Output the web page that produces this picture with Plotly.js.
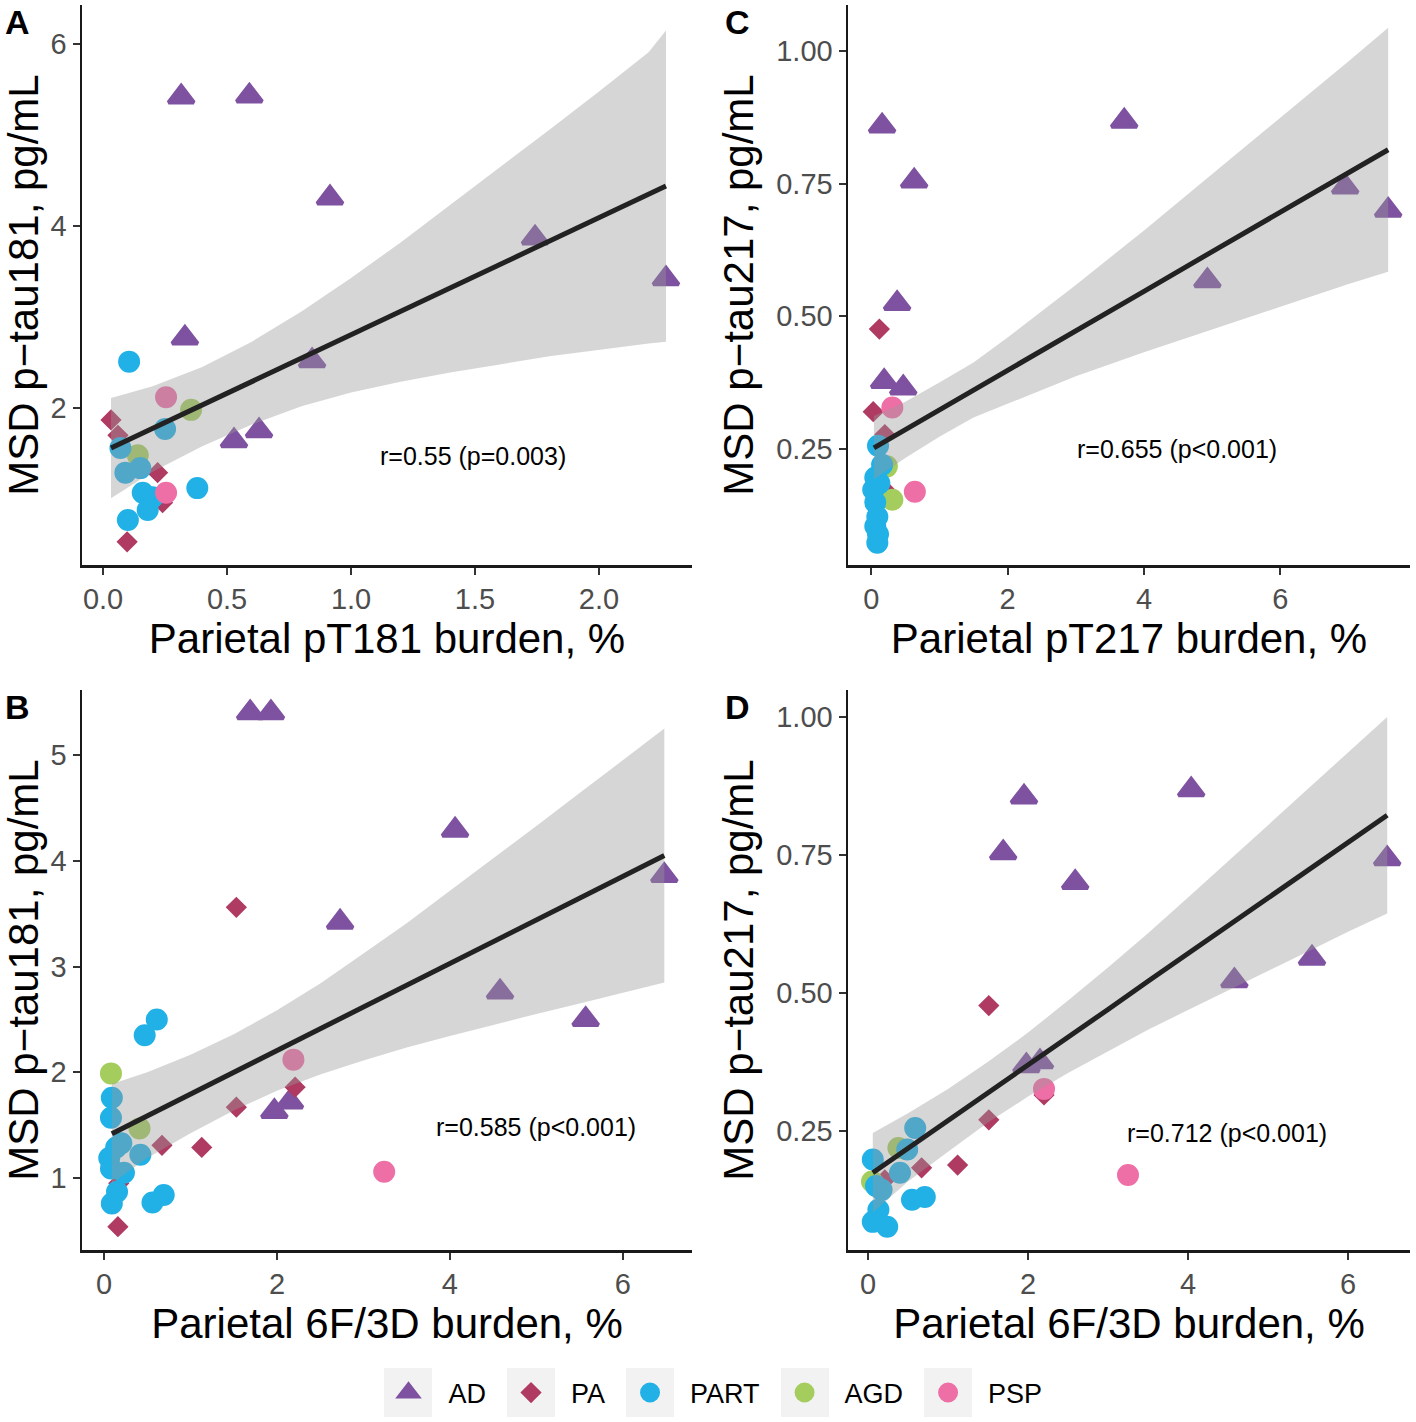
<!DOCTYPE html>
<html>
<head>
<meta charset="utf-8">
<script src="https://cdn.plot.ly/plotly-3.0.1.min.js"></script>
<style>html,body{margin:0;padding:0;background:#fff}#plot{width:1416px;height:1422px}</style>
</head>
<body>
<div id="plot"></div>
<script>
// groups
var groups = ['AD', 'PA', 'PART', 'AGD', 'PSP'];

// Panel A: parietal pT181 burden vs p-tau181
var A_AD_x = [0.315, 0.59, 0.915, 1.742, 2.27, 0.33, 0.843, 0.528, 0.629];
var A_AD_y = [5.42, 5.43, 4.31, 3.87, 3.42, 2.77, 2.52, 1.64, 1.75];
var A_PA_x = [0.032, 0.06, 0.22, 0.24, 0.097];
var A_PA_y = [1.87, 1.70, 1.29, 0.96, 0.53];
var A_PART_x = [0.105, 0.25, 0.07, 0.09, 0.15, 0.16, 0.2, 0.18, 0.38, 0.10];
var A_PART_y = [2.51, 1.77, 1.56, 1.29, 1.34, 1.07, 1.02, 0.88, 1.12, 0.77];
var A_AGD_x = [0.355, 0.14];
var A_AGD_y = [1.98, 1.48];
var A_PSP_x = [0.254, 0.254];
var A_PSP_y = [2.12, 1.07];
var A_fit_x = [0.032, 0.2, 0.4, 0.6, 0.8, 1.0, 1.2, 1.4, 1.6, 1.8, 2.0, 2.2, 2.27];
var A_fit_y = [1.56, 1.776, 2.034, 2.291, 2.549, 2.806, 3.064, 3.321, 3.579, 3.836, 4.094, 4.351, 4.44];
var A_hi = [2.11, 2.24, 2.45, 2.73, 3.06, 3.43, 3.82, 4.23, 4.64, 5.06, 5.48, 5.91, 6.15];
var A_lo = [1.01, 1.30, 1.58, 1.82, 2.02, 2.17, 2.29, 2.39, 2.48, 2.57, 2.64, 2.71, 2.73];

// Panel C: parietal pT217 burden vs p-tau217
var C_AD_x = [0.16, 0.63, 3.71, 6.95, 7.58, 0.38, 0.19, 0.47, 4.93];
var C_AD_y = [0.859, 0.755, 0.868, 0.744, 0.70, 0.524, 0.377, 0.365, 0.567];
var C_PA_x = [0.12, 0.03, 0.2, 0.2];
var C_PA_y = [0.476, 0.32, 0.277, 0.173];
var C_PART_x = [0.10, 0.16, 0.06, 0.03, 0.06, 0.09, 0.06, 0.10, 0.09, 0.12];
var C_PART_y = [0.256, 0.22, 0.196, 0.173, 0.149, 0.122, 0.104, 0.089, 0.073, 0.185];
var C_AGD_x = [0.23, 0.31];
var C_AGD_y = [0.217, 0.154];
var C_PSP_x = [0.31, 0.64];
var C_PSP_y = [0.328, 0.169];
var C_fit_x = [0.04, 0.5, 1, 1.5, 2, 3, 4, 5, 6, 7, 7.58];
var C_fit_y = [0.252, 0.286, 0.324, 0.361, 0.398, 0.473, 0.547, 0.622, 0.696, 0.771, 0.814];
var C_hi = [0.312, 0.339, 0.375, 0.413, 0.46, 0.559, 0.662, 0.768, 0.874, 0.981, 1.044];
var C_lo = [0.192, 0.233, 0.273, 0.309, 0.336, 0.387, 0.432, 0.476, 0.518, 0.561, 0.584];

// Panel B: parietal 6F/3D burden vs p-tau181
var B_AD_x = [1.69, 1.93, 4.06, 6.48, 2.73, 4.58, 5.57, 1.97, 2.15];
var B_AD_y = [5.40, 5.40, 4.29, 3.86, 3.42, 2.76, 2.50, 1.63, 1.72];
var B_PA_x = [1.53, 2.21, 1.53, 0.67, 1.13, 0.16, 0.17];
var B_PA_y = [3.56, 1.86, 1.67, 1.31, 1.29, 0.54, 0.95];
var B_PART_x = [0.61, 0.47, 0.09, 0.08, 0.14, 0.2, 0.42, 0.08, 0.23, 0.15, 0.09, 0.56, 0.69, 0.06];
var B_PART_y = [2.50, 2.35, 1.76, 1.57, 1.29, 1.33, 1.22, 1.09, 1.05, 0.87, 0.76, 0.77, 0.84, 1.19];
var B_AGD_x = [0.08, 0.41];
var B_AGD_y = [1.99, 1.47];
var B_PSP_x = [2.19, 3.24];
var B_PSP_y = [2.12, 1.06];
var B_fit_x = [0.09, 0.5, 1, 1.5, 2, 2.5, 3, 3.5, 4, 4.5, 5, 5.5, 6, 6.48];
var B_fit_y = [1.42, 1.589, 1.795, 2.0, 2.206, 2.412, 2.618, 2.824, 3.03, 3.235, 3.44, 3.645, 3.85, 4.05];
var B_hi = [1.89, 2.0, 2.166, 2.36, 2.586, 2.84, 3.124, 3.41, 3.716, 4.02, 4.328, 4.64, 4.95, 5.25];
var B_lo = [0.95, 1.19, 1.424, 1.64, 1.826, 1.98, 2.112, 2.235, 2.344, 2.45, 2.552, 2.65, 2.75, 2.85];

// Panel D: parietal 6F/3D burden vs p-tau217
var D_AD_x = [1.95, 1.69, 4.04, 6.49, 2.59, 5.55, 4.58, 1.98, 2.15];
var D_AD_y = [0.855, 0.754, 0.868, 0.743, 0.70, 0.563, 0.522, 0.368, 0.375];
var D_PA_x = [1.51, 2.2, 1.51, 0.67, 1.12, 0.21];
var D_PA_y = [0.477, 0.315, 0.27, 0.183, 0.188, 0.161];
var D_PART_x = [0.59, 0.49, 0.06, 0.40, 0.17, 0.13, 0.06, 0.24, 0.55, 0.71, 0.1];
var D_PART_y = [0.255, 0.216, 0.198, 0.174, 0.143, 0.107, 0.085, 0.076, 0.125, 0.13, 0.15];
var D_AGD_x = [0.38, 0.05];
var D_AGD_y = [0.219, 0.158];
var D_PSP_x = [2.2, 3.25];
var D_PSP_y = [0.326, 0.17];
var D_fit_x = [0.06, 0.5, 1, 1.5, 2, 2.5, 3, 3.5, 4, 4.5, 5, 5.5, 6, 6.49];
var D_fit_y = [0.174, 0.218, 0.269, 0.319, 0.37, 0.42, 0.47, 0.521, 0.571, 0.622, 0.672, 0.722, 0.773, 0.822];
var D_hi = [0.246, 0.282, 0.326, 0.375, 0.428, 0.486, 0.546, 0.608, 0.673, 0.738, 0.804, 0.87, 0.936, 1.0];
var D_lo = [0.102, 0.158, 0.212, 0.265, 0.312, 0.355, 0.394, 0.433, 0.469, 0.505, 0.54, 0.575, 0.611, 0.644];

var corrText = ['r=0.55 (p=0.003)', 'r=0.655 (p<0.001)', 'r=0.585 (p<0.001)', 'r=0.712 (p<0.001)'];

var colors = {AD: '#7E52A0', PA: '#B03B62', PART: '#21B1E6', AGD: '#A4CD5E', PSP: '#EE6FA6'};
var symbols = {AD: 'triangle-up', PA: 'diamond', PART: 'circle', AGD: 'circle', PSP: 'circle'};
// marker size + an outline of the same colour (keeps the legend keys from being capped too small)
var sizes = {AD: 22, PA: 12, PART: 18, AGD: 18, PSP: 18};
var outline = 4;
var drawOrder = ['AD', 'PA', 'AGD', 'PART', 'PSP'];

var panels = [
  {id: 'A', xa: 'x', ya: 'y', pts: {
    AD: [A_AD_x, A_AD_y], PA: [A_PA_x, A_PA_y], PART: [A_PART_x, A_PART_y], AGD: [A_AGD_x, A_AGD_y], PSP: [A_PSP_x, A_PSP_y]},
   fx: A_fit_x, fy: A_fit_y, hi: A_hi, lo: A_lo},
  {id: 'C', xa: 'x2', ya: 'y2', pts: {
    AD: [C_AD_x, C_AD_y], PA: [C_PA_x, C_PA_y], PART: [C_PART_x, C_PART_y], AGD: [C_AGD_x, C_AGD_y], PSP: [C_PSP_x, C_PSP_y]},
   fx: C_fit_x, fy: C_fit_y, hi: C_hi, lo: C_lo},
  {id: 'B', xa: 'x3', ya: 'y3', pts: {
    AD: [B_AD_x, B_AD_y], PA: [B_PA_x, B_PA_y], PART: [B_PART_x, B_PART_y], AGD: [B_AGD_x, B_AGD_y], PSP: [B_PSP_x, B_PSP_y]},
   fx: B_fit_x, fy: B_fit_y, hi: B_hi, lo: B_lo},
  {id: 'D', xa: 'x4', ya: 'y4', pts: {
    AD: [D_AD_x, D_AD_y], PA: [D_PA_x, D_PA_y], PART: [D_PART_x, D_PART_y], AGD: [D_AGD_x, D_AGD_y], PSP: [D_PSP_x, D_PSP_y]},
   fx: D_fit_x, fy: D_fit_y, hi: D_hi, lo: D_lo}
];

var data = [];
panels.forEach(function (p, i) {
  drawOrder.forEach(function (g) {
    data.push({
      type: 'scatter', mode: 'markers', name: g,
      x: p.pts[g][0], y: p.pts[g][1], xaxis: p.xa, yaxis: p.ya,
      legendgroup: g, showlegend: i === 0, legendrank: groups.indexOf(g) + 1,
      marker: {symbol: symbols[g], size: sizes[g], color: colors[g], line: {width: outline, color: colors[g]}},
      hoverinfo: 'x+y+name'
    });
  });
  // confidence band on top of the points, like geom_smooth
  data.push({
    type: 'scatter', mode: 'lines', showlegend: false, hoverinfo: 'skip',
    x: p.fx.concat(p.fx.slice().reverse()),
    y: p.hi.concat(p.lo.slice().reverse()),
    xaxis: p.xa, yaxis: p.ya,
    fill: 'toself', fillcolor: 'rgba(153,153,153,0.4)', line: {width: 0}
  });
  data.push({
    type: 'scatter', mode: 'lines', showlegend: false,
    x: p.fx, y: p.fy, xaxis: p.xa, yaxis: p.ya,
    line: {color: '#222222', width: 5}
  });
});

var W = 1416, H = 1422;
function xd(a, b) { return [a / W, b / W]; }
function yd(top, bottom) { return [1 - bottom / H, 1 - top / H]; }

function axis(domain, range, dtick, fmt, title, anchor) {
  return {
    domain: domain, range: range, dtick: dtick, tick0: 0, tickformat: fmt,
    showgrid: false, zeroline: false, showline: true, linecolor: '#1a1a1a', linewidth: 2.5,
    ticks: 'outside', ticklen: 7, tickwidth: 2, tickcolor: '#333333',
    tickfont: {size: 29, color: '#4d4d4d'},
    title: {text: title, font: {size: 42, color: '#000000'}, standoff: 10},
    anchor: anchor
  };
}

function letter(t, cx, cy) {
  return {xref: 'paper', yref: 'paper', x: cx / W, y: 1 - cy / H, xanchor: 'center', yanchor: 'middle',
          text: '<b>' + t + '</b>', showarrow: false, font: {size: 34}};
}

// grey key backgrounds behind the legend symbols
var keyCenters = [408, 531, 650, 805, 948];
var keyShapes = keyCenters.map(function (cx) {
  return {type: 'rect', xref: 'paper', yref: 'paper', layer: 'below',
          x0: (cx - 24) / W, x1: (cx + 24) / W, y0: 1 - 1417 / H, y1: 1 - 1368 / H,
          fillcolor: '#f2f2f2', line: {width: 0}};
});

var layout = {
  width: W, height: H,
  margin: {l: 0, r: 0, t: 0, b: 0},
  paper_bgcolor: '#ffffff', plot_bgcolor: '#ffffff',
  font: {family: 'Liberation Sans, Arial, sans-serif', color: '#000000'},
  showlegend: true,
  legend: {orientation: 'h', x: 0.5, xanchor: 'center', y: 1 - 1393 / H, yanchor: 'middle',
           font: {size: 27}, itemwidth: 70, bgcolor: 'rgba(0,0,0,0)'},
  xaxis:  axis(xd(82, 692), [-0.085, 2.375], 0.5, '.1f', 'Parietal pT181 burden, %', 'y'),
  yaxis:  axis(yd(5, 565), [0.275, 6.43], 2, 'd', 'MSD p\u2212tau181, pg/mL', 'x'),
  xaxis2: axis(xd(848, 1410), [-0.34, 7.9], 2, 'd', 'Parietal pT217 burden, %', 'y2'),
  yaxis2: axis(yd(5, 565), [0.031, 1.087], 0.25, '.2f', 'MSD p\u2212tau217, pg/mL', 'x2'),
  xaxis3: axis(xd(82, 692), [-0.255, 6.8], 2, 'd', 'Parietal 6F/3D burden, %', 'y3'),
  yaxis3: axis(yd(690, 1250), [0.32, 5.615], 1, 'd', 'MSD p\u2212tau181, pg/mL', 'x3'),
  xaxis4: axis(xd(848, 1410), [-0.25, 6.775], 2, 'd', 'Parietal 6F/3D burden, %', 'y4'),
  yaxis4: axis(yd(690, 1250), [0.034, 1.049], 0.25, '.2f', 'MSD p\u2212tau217, pg/mL', 'x4'),
  shapes: keyShapes,
  annotations: [
    {xref: 'x', yref: 'y', x: 1.49, y: 1.47, text: corrText[0], showarrow: false, font: {size: 25}},
    {xref: 'x2', yref: 'y2', x: 4.49, y: 0.25, text: corrText[1], showarrow: false, font: {size: 25}},
    {xref: 'x3', yref: 'y3', x: 4.99, y: 1.48, text: corrText[2], showarrow: false, font: {size: 25}},
    {xref: 'x4', yref: 'y4', x: 4.49, y: 0.246, text: corrText[3], showarrow: false, font: {size: 25}},
    letter('A', 17, 22), letter('C', 737, 22), letter('B', 17, 707), letter('D', 737, 707)
  ]
};

Plotly.newPlot('plot', data, layout, {displayModeBar: false, staticPlot: true});
</script>
</body>
</html>
